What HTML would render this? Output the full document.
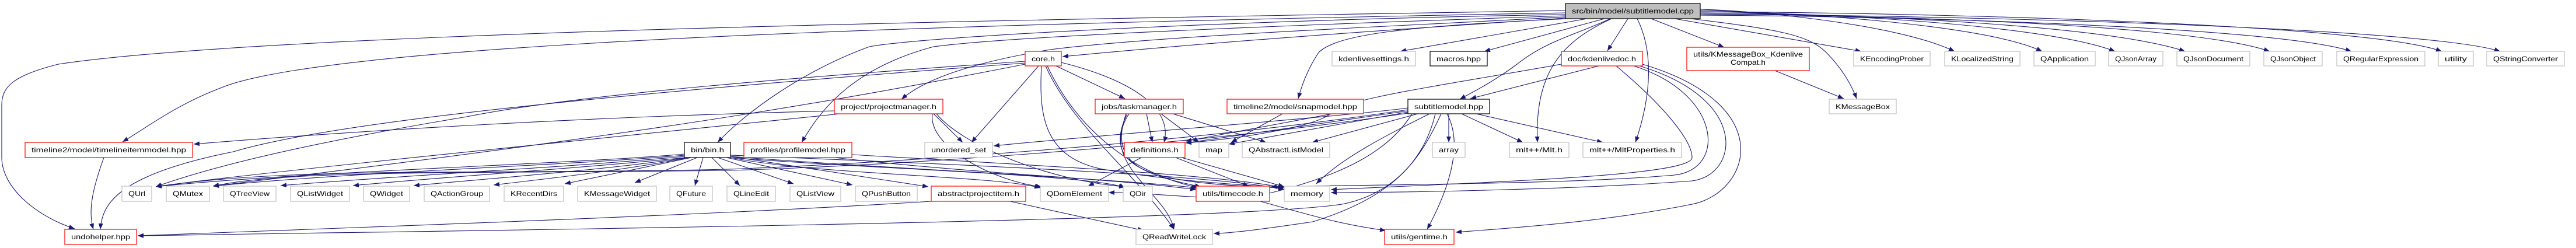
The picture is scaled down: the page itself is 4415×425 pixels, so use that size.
<!DOCTYPE html>
<html><head><meta charset="utf-8"><style>
html,body{margin:0;padding:0;background:#fff;}
svg{display:block;}
text{font-family:"Liberation Sans",sans-serif;font-size:12px;fill:#000;}
.e{fill:none;stroke:#191970;stroke-width:1.1;}
</style></head><body>
<svg width="4415" height="425" viewBox="0 0 4415 425" xmlns="http://www.w3.org/2000/svg">
<defs>
<marker id="a" markerWidth="10" markerHeight="8" refX="10" refY="4" orient="auto" markerUnits="userSpaceOnUse">
<path d="M0,0 L10,4 L0,8 z" fill="#191970"/>
</marker>
</defs>
<g class="e" marker-end="url(#a)">
<!-- from cpp -->
<path d="M2683,18 C2000,30 500,50 100,110 C20,130 3,150 3,180 L3,270 C3,320 60,370 128,392"/>
<path d="M2683,22 C2000,35 600,60 380,150 C300,180 250,220 210,243"/>
<path d="M2683,25 C2200,32 1600,60 1490,80 C1380,120 1280,190 1230,244"/>
<path d="M2683,27 C2300,40 1750,60 1600,80 C1450,120 1400,200 1374,244"/>
<path d="M2683,29 C2400,45 2000,60 1800,85 C1650,110 1580,140 1545,170"/>
<path d="M2683,31 C2400,50 2100,70 1821,97"/>
<path d="M2690,32 C2400,45 2290,60 2260,90 C2240,120 2230,150 2225,169"/>
<path d="M2720,32 L2400,88"/>
<path d="M2750,32 L2544,88"/>
<path d="M2790,32 L2755,87"/>
<path d="M2760,32 C2700,60 2650,70 2600,110 C2560,140 2520,160 2502,170"/>
<path d="M2762,32 C2680,70 2630,120 2635,244"/>
<path d="M2806,32 C2830,80 2835,150 2803,244"/>
<path d="M2830,32 L2955,81"/>
<path d="M2870,32 L3190,88"/>
<path d="M2880,30 C3050,50 3100,60 3130,90 C3160,120 3175,150 3182,169"/>
<path d="M2914,16 C3000,18 3250,40 3350,88"/>
<path d="M2914,18 C3050,20 3400,40 3500,88"/>
<path d="M2914,20 C3100,22 3500,40 3625,88"/>
<path d="M2914,22 C3150,24 3600,40 3745,88"/>
<path d="M2914,24 C3200,26 3750,40 3890,88"/>
<path d="M2914,26 C3250,28 3900,45 4030,88"/>
<path d="M2914,20 C3300,22 4050,40 4185,88"/>
<path d="M2914,24 C3300,26 4150,45 4285,88"/>
<path d="M3042,121 L3160,169"/>
<!-- kdenlivedoc -->
<path d="M2740,113 L2520,169"/>
<path d="M2800,113 C2950,160 2960,290 2870,300 C2700,315 2400,316 2178,320"/>
<path d="M2810,113 C3000,170 2980,300 2900,310 C2700,325 2400,330 2281,330"/>
<path d="M2815,110 C3050,180 3000,330 2900,350 C2750,380 2600,390 2495,398"/>
<path d="M2676,110 C2450,150 2300,170 2280,195 C2250,220 2100,240 2032,245"/>
<path d="M2770,113 C2850,180 2900,240 2900,270 C2900,300 2600,310 2281,325"/>
<!-- subtitlemodel.hpp -->
<path d="M2430,195 L2249,244"/>
<path d="M2483,195 L2483,244"/>
<path d="M2505,195 L2610,244"/>
<path d="M2530,195 L2747,244"/>
<path d="M2450,195 C2380,230 2300,270 2256,315"/>
<path d="M2480,195 C2510,250 2480,330 2446,393"/>
<path d="M2470,195 C2440,260 2400,330 2300,350 C2100,380 800,395 236,404"/>
<path d="M2460,195 C2440,280 2380,340 2250,380 C2150,395 2100,400 2080,400"/>
<path d="M2413,185 C2300,200 1900,230 1703,250"/>
<path d="M2413,190 L2032,245"/>
<path d="M2413,192 L2106,247"/>
<path d="M2413,188 C2000,250 1500,280 1250,290 C800,300 500,285 267,320"/>
<path d="M2413,194 C2000,255 1500,285 1250,292 C800,298 500,290 365,319"/>
<path d="M2420,195 C2380,260 2300,300 2180,330 C2100,350 2000,330 1900,330"/>
<!-- bin.h -->
<path d="M1173,264 C1000,280 500,295 267,320"/>
<path d="M1173,266 C1000,282 600,295 365,319"/>
<path d="M1173,268 C1000,285 700,300 481,318"/>
<path d="M1175,270 C1000,288 800,300 605,318"/>
<path d="M1178,270 C1050,290 850,305 709,318"/>
<path d="M1180,270 C1080,290 950,305 846,317"/>
<path d="M1185,270 L968,315"/>
<path d="M1195,270 L1088,313"/>
<path d="M1205,270 L1191,318"/>
<path d="M1220,270 L1268,318"/>
<path d="M1230,270 L1360,315"/>
<path d="M1245,270 L1461,317"/>
<path d="M1252,268 L1591,320"/>
<path d="M1252,270 C1400,300 1700,300 1783,322"/>
<path d="M1252,270 C1500,290 1880,300 1928,322"/>
<path d="M1252,268 C1500,288 1900,305 2052,322"/>
<path d="M1252,266 C1600,280 2100,300 2201,325"/>
<!-- profilemodel -->
<path d="M1460,265 C1800,285 2100,300 2201,322"/>
<path d="M1430,270 C1700,300 1900,305 2050,325"/>
<!-- projectmanager -->
<path d="M1430,190 C1000,200 600,225 332,247"/>
<path d="M1600,195 L1650,244"/>
<path d="M1598,195 C1590,250 1700,310 1785,320"/>
<path d="M1605,195 C1650,250 1800,310 1928,320"/>
<path d="M1440,195 C1000,240 400,300 267,320"/>
<!-- core.h -->
<path d="M1810,113 L1928,169"/>
<path d="M1780,113 L1665,244"/>
<path d="M1819,107 C1950,140 2010,190 1995,244"/>
<path d="M1757,105 C1400,130 1000,160 800,200 C500,250 350,290 267,320"/>
<path d="M1757,108 C1200,150 600,200 400,260 C200,300 175,350 172,393"/>
<path d="M1757,110 C1400,180 1100,230 365,319"/>
<path d="M1785,113 C1780,200 1790,270 1890,290 C2000,310 2150,318 2201,322"/>
<path d="M1795,113 C1850,230 1950,300 2055,322"/>
<path d="M1792,113 C1840,220 1950,300 2012,393"/>
<!-- taskmanager -->
<path d="M1965,195 L1975,244"/>
<path d="M1990,195 L2055,244"/>
<path d="M2010,195 L2170,244"/>
<path d="M1935,195 C1880,280 2000,330 2012,393"/>
<path d="M1932,195 C1880,300 2000,315 2201,322"/>
<path d="M1930,195 C1900,280 1960,300 2058,320"/>
<!-- snapmodel -->
<path d="M2198,195 L2110,244"/>
<path d="M2337,185 C2200,210 2100,230 2032,242"/>
<!-- definitions -->
<path d="M1956,270 L1865,319"/>
<path d="M2025,270 L2201,320"/>
<path d="M2015,270 L2140,319"/>
<!-- abstractprojectitem -->
<path d="M1731,345 L1960,395"/>
<path d="M1596,345 C1200,370 600,390 236,404"/>
<!-- timecode -->
<path d="M2160,345 C2250,370 2300,385 2375,395"/>
<!-- timelineitemmodel -->
<path d="M178,270 C160,320 150,360 160,393"/>
</g>
<g stroke-width="1.2">
<!-- row1 -->
<rect x="2683" y="6" width="231" height="26" fill="#bfbfbf" stroke="#000"/>
<!-- row2 -->
<rect x="1757" y="88" width="62" height="25" fill="#fff" stroke="#f00"/>
<rect x="2283" y="88" width="143" height="25" fill="#fff" stroke="#bfbfbf"/>
<rect x="2451" y="88" width="98" height="25" fill="#fff" stroke="#000"/>
<rect x="2676" y="88" width="139" height="25" fill="#fff" stroke="#f00"/>
<rect x="2891" y="81" width="210" height="40" fill="#fff" stroke="#f00"/>
<rect x="3177" y="88" width="131" height="25" fill="#fff" stroke="#bfbfbf"/>
<rect x="3333" y="88" width="129" height="25" fill="#fff" stroke="#bfbfbf"/>
<rect x="3486" y="88" width="105" height="25" fill="#fff" stroke="#bfbfbf"/>
<rect x="3614" y="88" width="93" height="25" fill="#fff" stroke="#bfbfbf"/>
<rect x="3731" y="88" width="125" height="25" fill="#fff" stroke="#bfbfbf"/>
<rect x="3880" y="88" width="100" height="25" fill="#fff" stroke="#bfbfbf"/>
<rect x="4005" y="88" width="151" height="25" fill="#fff" stroke="#bfbfbf"/>
<rect x="4179" y="88" width="60" height="25" fill="#fff" stroke="#bfbfbf"/>
<rect x="4262" y="88" width="133" height="25" fill="#fff" stroke="#bfbfbf"/>
<!-- row3 -->
<rect x="1430" y="170" width="186" height="25" fill="#fff" stroke="#f00"/>
<rect x="1877" y="170" width="151" height="25" fill="#fff" stroke="#f00"/>
<rect x="2103" y="170" width="234" height="25" fill="#fff" stroke="#f00"/>
<rect x="2413" y="170" width="140" height="25" fill="#fff" stroke="#000"/>
<rect x="3135" y="170" width="115" height="25" fill="#fff" stroke="#bfbfbf"/>
<!-- row4 -->
<rect x="43" y="244" width="287" height="26" fill="#fff" stroke="#f00"/>
<rect x="1173" y="244" width="79" height="26" fill="#fff" stroke="#000"/>
<rect x="1275" y="244" width="185" height="26" fill="#fff" stroke="#f00"/>
<rect x="1585" y="244" width="116" height="26" fill="#fff" stroke="#bfbfbf"/>
<rect x="1927" y="244" width="104" height="26" fill="#fff" stroke="#f00"/>
<rect x="2055" y="244" width="51" height="26" fill="#fff" stroke="#bfbfbf"/>
<rect x="2129" y="244" width="150" height="26" fill="#fff" stroke="#bfbfbf"/>
<rect x="2455" y="244" width="56" height="26" fill="#fff" stroke="#bfbfbf"/>
<rect x="2587" y="244" width="102" height="26" fill="#fff" stroke="#bfbfbf"/>
<rect x="2713" y="244" width="169" height="26" fill="#fff" stroke="#bfbfbf"/>
<!-- row5 -->
<rect x="209" y="319" width="51" height="26" fill="#fff" stroke="#bfbfbf"/>
<rect x="285" y="319" width="74" height="26" fill="#fff" stroke="#bfbfbf"/>
<rect x="383" y="319" width="90" height="26" fill="#fff" stroke="#bfbfbf"/>
<rect x="498" y="319" width="101" height="26" fill="#fff" stroke="#bfbfbf"/>
<rect x="623" y="319" width="79" height="26" fill="#fff" stroke="#bfbfbf"/>
<rect x="727" y="319" width="112" height="26" fill="#fff" stroke="#bfbfbf"/>
<rect x="864" y="319" width="102" height="26" fill="#fff" stroke="#bfbfbf"/>
<rect x="990" y="319" width="135" height="26" fill="#fff" stroke="#bfbfbf"/>
<rect x="1148" y="319" width="73" height="26" fill="#fff" stroke="#bfbfbf"/>
<rect x="1246" y="319" width="83" height="26" fill="#fff" stroke="#bfbfbf"/>
<rect x="1354" y="319" width="87" height="26" fill="#fff" stroke="#bfbfbf"/>
<rect x="1466" y="319" width="106" height="26" fill="#fff" stroke="#bfbfbf"/>
<rect x="1596" y="319" width="162" height="26" fill="#fff" stroke="#f00"/>
<rect x="1783" y="319" width="117" height="26" fill="#fff" stroke="#bfbfbf"/>
<rect x="1925" y="319" width="50" height="26" fill="#fff" stroke="#bfbfbf"/>
<rect x="2050" y="319" width="126" height="26" fill="#fff" stroke="#f00"/>
<rect x="2201" y="319" width="78" height="26" fill="#fff" stroke="#bfbfbf"/>
<!-- row6 -->
<rect x="111" y="393" width="123" height="26" fill="#fff" stroke="#f00"/>
<rect x="1947" y="393" width="131" height="26" fill="#fff" stroke="#bfbfbf"/>
<rect x="2373" y="393" width="119" height="26" fill="#fff" stroke="#f00"/>
</g>
<g text-anchor="middle" lengthAdjust="spacingAndGlyphs">
<text x="2798.5" y="23" textLength="209" lengthAdjust="spacingAndGlyphs">src/bin/model/subtitlemodel.cpp</text>
<text x="1788" y="105" textLength="40" lengthAdjust="spacingAndGlyphs">core.h</text>
<text x="2354.5" y="105" textLength="121" lengthAdjust="spacingAndGlyphs">kdenlivesettings.h</text>
<text x="2500" y="105" textLength="76" lengthAdjust="spacingAndGlyphs">macros.hpp</text>
<text x="2745.5" y="105" textLength="117" lengthAdjust="spacingAndGlyphs">doc/kdenlivedoc.h</text>
<text x="2996" y="97" textLength="188" lengthAdjust="spacingAndGlyphs">utils/KMessageBox_Kdenlive</text>
<text x="2996" y="111" textLength="60" lengthAdjust="spacingAndGlyphs">Compat.h</text>
<text x="3242.5" y="105" textLength="109" lengthAdjust="spacingAndGlyphs">KEncodingProber</text>
<text x="3397.5" y="105" textLength="107" lengthAdjust="spacingAndGlyphs">KLocalizedString</text>
<text x="3538.5" y="105" textLength="83" lengthAdjust="spacingAndGlyphs">QApplication</text>
<text x="3660.5" y="105" textLength="71" lengthAdjust="spacingAndGlyphs">QJsonArray</text>
<text x="3793.5" y="105" textLength="103" lengthAdjust="spacingAndGlyphs">QJsonDocument</text>
<text x="3930" y="105" textLength="78" lengthAdjust="spacingAndGlyphs">QJsonObject</text>
<text x="4080.5" y="105" textLength="129" lengthAdjust="spacingAndGlyphs">QRegularExpression</text>
<text x="4209" y="105" textLength="38" lengthAdjust="spacingAndGlyphs">utility</text>
<text x="4328.5" y="105" textLength="111" lengthAdjust="spacingAndGlyphs">QStringConverter</text>
<text x="1523" y="187" textLength="164" lengthAdjust="spacingAndGlyphs">project/projectmanager.h</text>
<text x="1952.5" y="187" textLength="129" lengthAdjust="spacingAndGlyphs">jobs/taskmanager.h</text>
<text x="2220" y="187" textLength="212" lengthAdjust="spacingAndGlyphs">timeline2/model/snapmodel.hpp</text>
<text x="2483" y="187" textLength="118" lengthAdjust="spacingAndGlyphs">subtitlemodel.hpp</text>
<text x="3192.5" y="187" textLength="93" lengthAdjust="spacingAndGlyphs">KMessageBox</text>
<text x="186.5" y="261" textLength="265" lengthAdjust="spacingAndGlyphs">timeline2/model/timelineitemmodel.hpp</text>
<text x="1212.5" y="261" textLength="57" lengthAdjust="spacingAndGlyphs">bin/bin.h</text>
<text x="1367.5" y="261" textLength="163" lengthAdjust="spacingAndGlyphs">profiles/profilemodel.hpp</text>
<text x="1643" y="261" textLength="94" lengthAdjust="spacingAndGlyphs">unordered_set</text>
<text x="1979" y="261" textLength="82" lengthAdjust="spacingAndGlyphs">definitions.h</text>
<text x="2080.5" y="261" textLength="29" lengthAdjust="spacingAndGlyphs">map</text>
<text x="2204" y="261" textLength="128" lengthAdjust="spacingAndGlyphs">QAbstractListModel</text>
<text x="2483" y="261" textLength="34" lengthAdjust="spacingAndGlyphs">array</text>
<text x="2638" y="261" textLength="80" lengthAdjust="spacingAndGlyphs">mlt++/Mlt.h</text>
<text x="2797.5" y="261" textLength="147" lengthAdjust="spacingAndGlyphs">mlt++/MltProperties.h</text>
<text x="234.5" y="336" textLength="29" lengthAdjust="spacingAndGlyphs">QUrl</text>
<text x="322" y="336" textLength="52" lengthAdjust="spacingAndGlyphs">QMutex</text>
<text x="428" y="336" textLength="68" lengthAdjust="spacingAndGlyphs">QTreeView</text>
<text x="548.5" y="336" textLength="79" lengthAdjust="spacingAndGlyphs">QListWidget</text>
<text x="662.5" y="336" textLength="57" lengthAdjust="spacingAndGlyphs">QWidget</text>
<text x="783" y="336" textLength="90" lengthAdjust="spacingAndGlyphs">QActionGroup</text>
<text x="915" y="336" textLength="80" lengthAdjust="spacingAndGlyphs">KRecentDirs</text>
<text x="1057.5" y="336" textLength="113" lengthAdjust="spacingAndGlyphs">KMessageWidget</text>
<text x="1184.5" y="336" textLength="51" lengthAdjust="spacingAndGlyphs">QFuture</text>
<text x="1287.5" y="336" textLength="61" lengthAdjust="spacingAndGlyphs">QLineEdit</text>
<text x="1397.5" y="336" textLength="65" lengthAdjust="spacingAndGlyphs">QListView</text>
<text x="1519" y="336" textLength="84" lengthAdjust="spacingAndGlyphs">QPushButton</text>
<text x="1677" y="336" textLength="140" lengthAdjust="spacingAndGlyphs">abstractprojectitem.h</text>
<text x="1841.5" y="336" textLength="95" lengthAdjust="spacingAndGlyphs">QDomElement</text>
<text x="1950" y="336" textLength="28" lengthAdjust="spacingAndGlyphs">QDir</text>
<text x="2113" y="336" textLength="104" lengthAdjust="spacingAndGlyphs">utils/timecode.h</text>
<text x="2240" y="336" textLength="56" lengthAdjust="spacingAndGlyphs">memory</text>
<text x="172.5" y="410" textLength="101" lengthAdjust="spacingAndGlyphs">undohelper.hpp</text>
<text x="2012.5" y="410" textLength="109" lengthAdjust="spacingAndGlyphs">QReadWriteLock</text>
<text x="2432.5" y="410" textLength="97" lengthAdjust="spacingAndGlyphs">utils/gentime.h</text>
</g>
</svg>
</body></html>
